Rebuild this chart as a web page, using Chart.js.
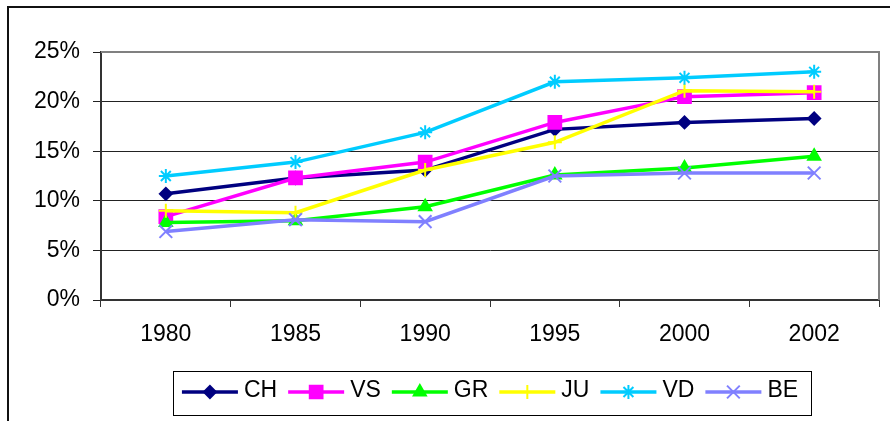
<!DOCTYPE html>
<html>
<head>
<meta charset="utf-8">
<script src="https://cdn.jsdelivr.net/npm/chart.js@4"></script>
<style>
  html, body { margin: 0; padding: 0; background: #fff; }
  #wrap { width: 890px; height: 421px; position: relative; }
</style>
</head>
<body>
<div id="wrap"><canvas id="CantonChart"></canvas></div>
<script>
// categories / series
var years = ["1980", "1985", "1990", "1995", "2000", "2002"];
var yTicks = [0, 5, 10, 15, 20, 25];

var CH = [10.7, 12.3, 13.1, 17.2, 17.9, 18.3];
var VS = [8.4, 12.3, 13.9, 17.9, 20.5, 20.9];
var GR = [7.8, 8.0, 9.4, 12.6, 13.3, 14.5];
var JU = [9.0, 8.8, 13.1, 15.9, 21.1, 21.0];
var VD = [12.5, 13.9, 16.9, 22.0, 22.4, 23.0];
var BE = [6.9, 8.1, 7.9, 12.5, 12.8, 12.8];

var names = ["CH", "VS", "GR", "JU", "VD", "BE"];
var values = [CH, VS, GR, JU, VD, BE];
var colors = ["#000080", "#ff00ff", "#00ff00", "#ffff00", "#00ccff", "#8080ff"];
var styles = ["rectRot", "rect", "triangle", "cross", "star", "crossRot"];
var radii = [6, 9, 7, 7, 7, 9];

var FONT = "Liberation Sans, Arial, sans-serif";

var datasets = names.map(function (n, i) {
  return {
    label: n,
    data: values[i],
    fill: false,
    borderColor: colors[i],
    backgroundColor: colors[i],
    borderWidth: 3.5,
    pointStyle: styles[i],
    pointRadius: radii[i],
    pointBorderWidth: 2,
    pointBackgroundColor: colors[i],
    pointBorderColor: colors[i],
    tension: 0,
    order: names.length - i  // later series drawn on top, like excel
  };
});

// frame + plot border + legend box (excel look)
var excelFrame = {
  id: "excelFrame",
  beforeDraw: function (chart) {
    var ctx = chart.ctx;
    ctx.save();
    ctx.fillStyle = "#fff";
    ctx.fillRect(0, 0, chart.width, chart.height);
    ctx.strokeStyle = "#111";
    ctx.lineWidth = 2;
    ctx.strokeRect(8, 7, chart.width + 20, chart.height + 20);
    ctx.restore();
  },
  afterDraw: function (chart) {
    var ctx = chart.ctx;
    var a = chart.chartArea;
    ctx.save();
    ctx.strokeStyle = "#808080";
    ctx.lineWidth = 2;
    ctx.beginPath();
    ctx.moveTo(a.left, a.top);
    ctx.lineTo(a.right, a.top);
    ctx.lineTo(a.right, a.bottom);
    ctx.stroke();

    // legend
    ctx.font = "23px " + FONT;
    var lineW = 56, gapT = 6, gapI = 11;
    var total = 0;
    names.forEach(function (n, i) {
      total += lineW + gapT + ctx.measureText(n).width + (i < names.length - 1 ? gapI : 0);
    });
    var cx = (a.left + a.right) / 2;
    var x = cx - total / 2;
    var y = 392;
    ctx.strokeStyle = "#000";
    ctx.lineWidth = 1;
    ctx.strokeRect(Math.round(x - 9) + 0.5, 371.5, Math.round(total + 22), 44);
    names.forEach(function (n, i) {
      ctx.strokeStyle = colors[i];
      ctx.lineWidth = 3.5;
      ctx.beginPath();
      ctx.moveTo(x, y);
      ctx.lineTo(x + lineW, y);
      ctx.stroke();
      ctx.fillStyle = colors[i];
      ctx.lineWidth = 2;
      Chart.helpers.drawPoint(ctx, {
        pointStyle: styles[i], radius: radii[i], borderWidth: 2, rotation: 0
      }, x + lineW / 2, y);
      ctx.fillStyle = "#000";
      ctx.textBaseline = "middle";
      ctx.textAlign = "left";
      ctx.fillText(n, x + lineW + gapT, y - 1);
      x += lineW + gapT + ctx.measureText(n).width + gapI;
    });
    ctx.restore();
  }
};

var ctx = document.getElementById("CantonChart").getContext("2d");
var myChart = new Chart(ctx, {
  type: "line",
  data: {
    labels: years,
    datasets: datasets
  },
  options: {
    responsive: true,
    maintainAspectRatio: false,
    animation: false,
    layout: { padding: { left: 2, top: 52, right: 6, bottom: 51 } },
    plugins: {
      legend: { display: false },
      tooltip: { enabled: false }
    },
    scales: {
      x: {
        offset: true,
        grid: {
          offset: true,
          drawOnChartArea: false,
          drawTicks: true,
          tickLength: 7,
          color: "#333"
        },
        border: { color: "#333", width: 2 },
        ticks: {
          color: "#000",
          font: { family: FONT, size: 23 },
          padding: 14,
          maxRotation: 0
        },
        afterFit: function (s) { s.height = 70; }
      },
      y: {
        min: 0,
        max: 25,
        afterBuildTicks: function (s) {
          s.ticks = yTicks.map(function (v) { return { value: v }; });
        },
        grid: {
          color: "#222",
          lineWidth: 1,
          drawTicks: true,
          tickLength: 8
        },
        border: { color: "#333", width: 2 },
        ticks: {
          color: "#000",
          font: { family: FONT, size: 23 },
          padding: 13,
          callback: function (v) { return v + "%"; }
        },
        afterFit: function (s) { s.width = 99; }
      }
    }
  },
  plugins: [excelFrame]
});
</script>
</body>
</html>
